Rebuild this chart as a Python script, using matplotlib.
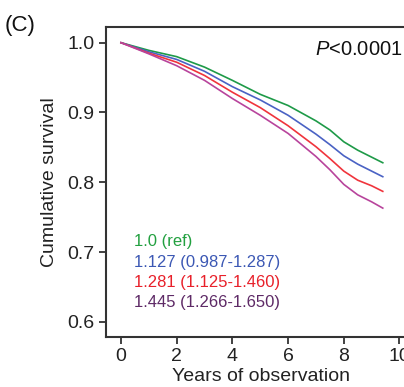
import numpy as np
import matplotlib.pyplot as plt

plt.rcParams['font.family'] = ['Liberation Sans', 'DejaVu Sans']
plt.rcParams['mathtext.fontset'] = 'custom'
plt.rcParams['mathtext.it'] = 'Liberation Sans:italic'

# survival curves
years = [0, 1, 2, 3, 4, 5, 6, 7, 7.5, 8, 8.5, 9, 9.4]
surv_ref = [1.0, 0.989, 0.980, 0.965, 0.946, 0.926, 0.910, 0.888, 0.875, 0.858, 0.846, 0.836, 0.828]
surv_q2 = [1.0, 0.987, 0.976, 0.959, 0.937, 0.918, 0.896, 0.869, 0.854, 0.838, 0.826, 0.816, 0.808]
surv_q3 = [1.0, 0.985, 0.972, 0.953, 0.929, 0.907, 0.881, 0.851, 0.834, 0.816, 0.803, 0.795, 0.787]
surv_q4 = [1.0, 0.984, 0.967, 0.946, 0.920, 0.896, 0.870, 0.837, 0.818, 0.797, 0.782, 0.772, 0.763]

labels = ['1.0 (ref)', '1.127 (0.987-1.287)', '1.281 (1.125-1.460)', '1.445 (1.266-1.650)']
line_colors = ['#1e9a48', '#4a62c4', '#f0343c', '#b8449c']
text_colors = ['#22a040', '#3c58b4', '#e8202a', '#5e2a66']

fig = plt.figure(figsize=(4.04, 3.87), dpi=100)
ax = fig.add_axes([0.2616, 0.130, 0.7686, 0.801])

for s, c in zip([surv_ref, surv_q2, surv_q3, surv_q4], line_colors):
    ax.plot(years, s, color=c, lw=1.2)

ax.set_xlim(-0.55, 10.6)
ax.set_ylim(0.5788, 1.0229)
ax.set_xticks([0, 2, 4, 6, 8, 10])
ax.set_yticks([0.6, 0.7, 0.8, 0.9, 1.0])
ax.set_yticklabels(['0.6', '0.7', '0.8', '0.9', '1.0'])

for sp in ax.spines.values():
    sp.set_color('#333333')
    sp.set_linewidth(1.5)
ax.tick_params(direction='out', length=5, width=1.3, color='#333333',
               labelsize=14, labelcolor='#222222', pad=3)

ax.set_xlabel('Years of observation', fontsize=14, color='#222222', labelpad=2)
ax.set_ylabel('Cumulative survival', fontsize=14, color='#222222', labelpad=7)

ax.text(0.674, 0.927, '$P$<0.0001', transform=ax.transAxes, fontsize=14.5,
        color='#111111', va='center', ha='left')

y0 = 241.7
for i, (lab, c) in enumerate(zip(labels, text_colors)):
    fig.text(134 / 404, 1 - (y0 + i * 20.3) / 387, lab, color=c,
             fontsize=12, va='center', ha='left')

fig.text(5 / 404, 1 - 25 / 387, '(C)', fontsize=16, va='center', ha='left',
         color='#111111')

fig.savefig('out.png', dpi=100)
